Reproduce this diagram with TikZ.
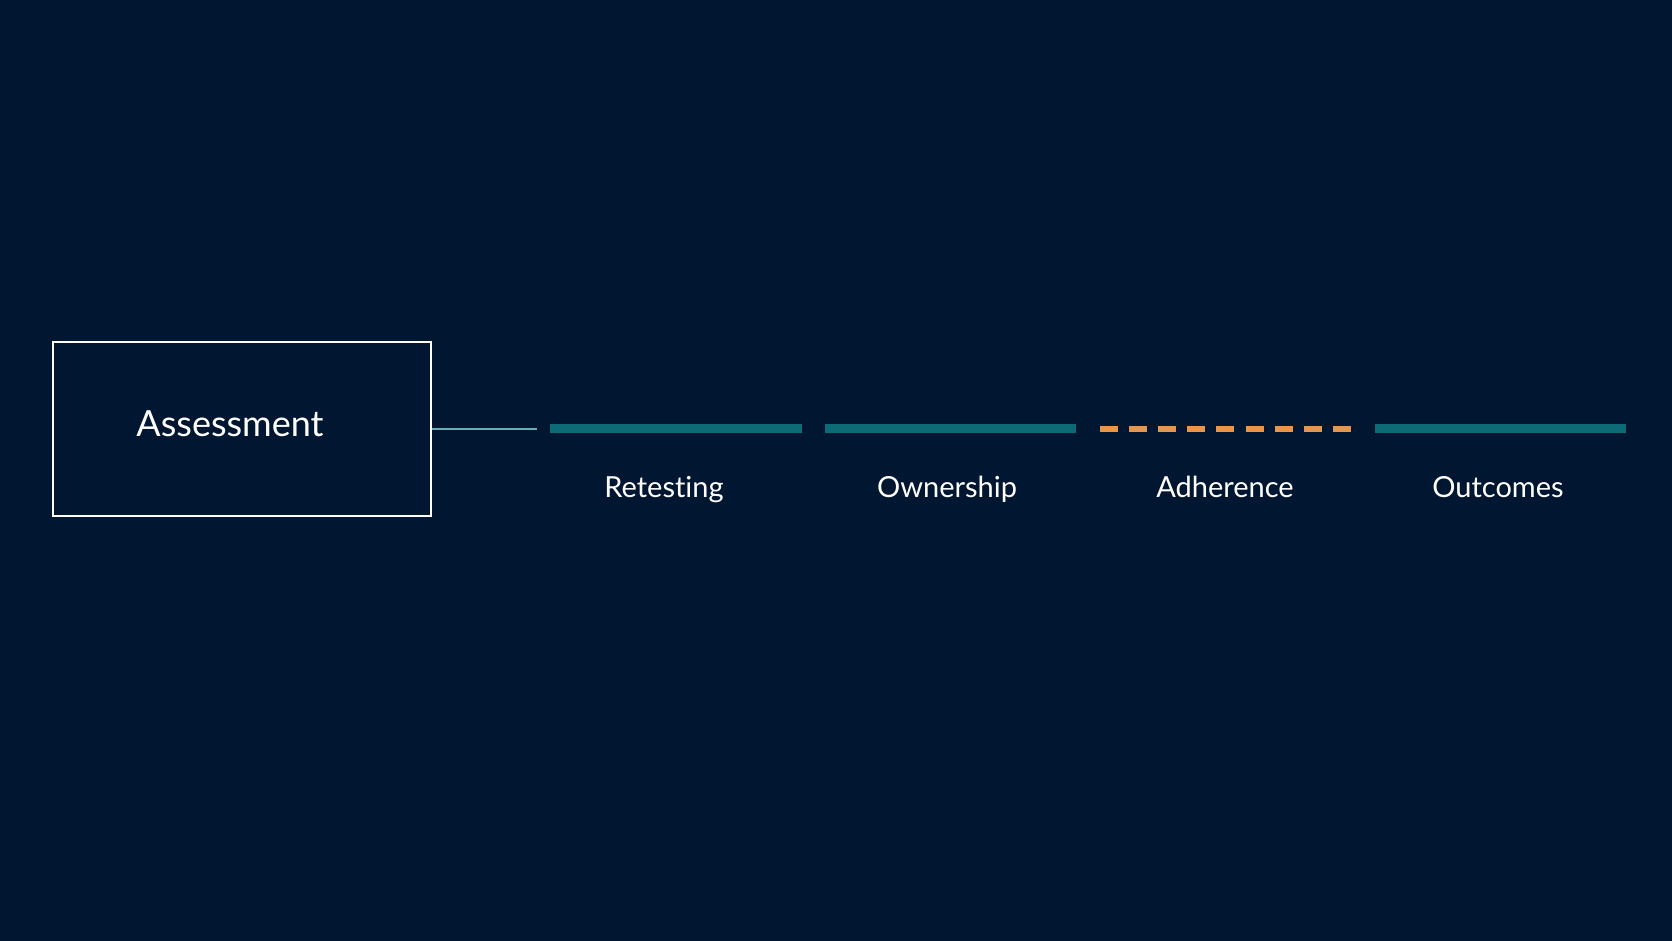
\documentclass[tikz,border=0pt]{standalone}
\usepackage{fontspec}
\setmainfont[Ligatures=NoCommon]{Lato}
\definecolor{navy}{HTML}{011631}
\definecolor{tealbar}{HTML}{0D6B76}
\definecolor{tealline}{HTML}{6BAFB5}
\definecolor{orangebar}{HTML}{E8964B}
\tikzset{
  box/.style={draw=white, line width=2.5pt, minimum width=378pt, minimum height=174pt},
  title/.style={text=white, anchor=base, font=\fontsize{36}{43}\selectfont},
  bar/.style={line width=9pt, tealbar},
  label/.style={text=white, anchor=base, font=\fontsize{29}{35}\selectfont}
}
\begin{document}
\begin{tikzpicture}[x=1pt, y=1pt]
    \fill[navy] (0, 0) rectangle (1672, 941);

    \node[box] (assess) at (242, 512) {};
    \node[title] (assesstext) at (230, 504) {Assessment};

    \coordinate (link) at (537, 512);
    \draw[tealline, line width=2pt] (assess.east) -- (link);

    \draw[bar] (550, 512) -- (802, 512);
    \node[label] (retest) at (664, 443) {Retesting};

    \draw[bar] (825, 512) -- (1076, 512);
    \node[label] (owner) at (947, 443) {Ownership};

    \draw[orangebar, line width=6pt, dash pattern=on 18pt off 11.1pt] (1100, 512) -- (1351, 512);
    \node[label] (adhere) at (1225, 443) {Adherence};

    \draw[bar] (1375, 512) -- (1626, 512);
    \node[label] (outcome) at (1498, 443) {Outcomes};
  \end{tikzpicture}
\end{document}
